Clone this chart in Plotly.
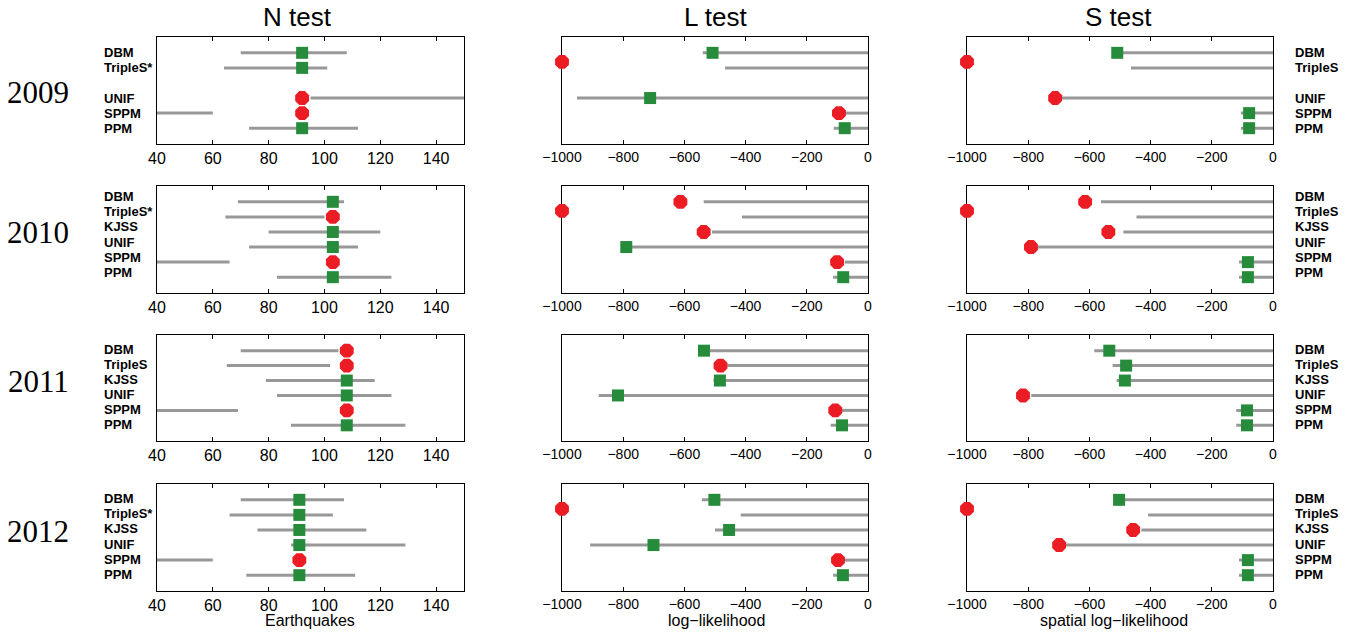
import plotly.graph_objects as go

# ---------------- data ----------------
years = [2009, 2010, 2011, 2012]
tests = ["N", "L", "S"]

# row slots (2009 has no KJSS row)
slots_2009 = [1, 2, 4, 5, 6]
slots_2010 = [1, 2, 3, 4, 5, 6]
slots_2011 = [1, 2, 3, 4, 5, 6]
slots_2012 = [1, 2, 3, 4, 5, 6]

labels_N_2009 = ["DBM", "TripleS*", "UNIF", "SPPM", "PPM"]
labels_N_2010 = ["DBM", "TripleS*", "KJSS", "UNIF", "SPPM", "PPM"]
labels_N_2011 = ["DBM", "TripleS", "KJSS", "UNIF", "SPPM", "PPM"]
labels_N_2012 = ["DBM", "TripleS*", "KJSS", "UNIF", "SPPM", "PPM"]
labels_S_2009 = ["DBM", "TripleS", "UNIF", "SPPM", "PPM"]
labels_S_2010 = ["DBM", "TripleS", "KJSS", "UNIF", "SPPM", "PPM"]
labels_S_2011 = ["DBM", "TripleS", "KJSS", "UNIF", "SPPM", "PPM"]
labels_S_2012 = ["DBM", "TripleS", "KJSS", "UNIF", "SPPM", "PPM"]

# N test: observed number of earthquakes and forecast ranges
n_obs_2009 = 92
n_lo_2009 = [70, 64, 95, 35, 73]
n_hi_2009 = [108, 101, 160, 60, 112]
n_obs_2010 = 103
n_lo_2010 = [69, 64.5, 80, 73, 35, 83]
n_hi_2010 = [107, 100, 120, 112, 66, 124]
n_obs_2011 = 108
n_lo_2011 = [70, 65, 79, 83, 35, 88]
n_hi_2011 = [105, 102, 118, 124, 69, 129]
n_obs_2012 = 91
n_lo_2012 = [70, 66, 76, 88, 35, 72]
n_hi_2012 = [107, 103, 115, 129, 60, 111]

# L test: observed log-likelihood and lower bound of the simulated range (upper = 0)
l_obs_2009 = [-508, -1000, -712, -95, -76]
l_lo_2009 = [-540, -467, -951, -80, -112]
l_obs_2010 = [-613, -1000, -537, -790, -101, -81]
l_lo_2010 = [-537, -412, -510, -800, -76, -114]
l_obs_2011 = [-536, -482, -484, -817, -107, -85]
l_lo_2011 = [-545, -460, -505, -880, -85, -122]
l_obs_2012 = [-502, -1000, -454, -701, -98, -82]
l_lo_2012 = [-543, -416, -500, -908, -80, -114]

# S test: observed spatial log-likelihood and lower bound (upper = 0)
s_obs_2009 = [-509, -1000, -712, -78, -78]
s_lo_2009 = [-520, -464, -690, -105, -105]
s_obs_2010 = [-614, -1000, -538, -791, -82, -82]
s_lo_2010 = [-562, -446, -489, -770, -111, -111]
s_obs_2011 = [-535, -480, -484, -817, -85, -85]
s_lo_2011 = [-584, -524, -511, -790, -120, -120]
s_obs_2012 = [-503, -1000, -457, -699, -82, -82]
s_lo_2012 = [-520, -408, -430, -680, -111, -111]
ll_hi = 0

n_ticks = [40, 60, 80, 100, 120, 140]
ll_ticks = [-1000, -800, -600, -400, -200, 0]

axis_titles = ["Earthquakes", "log\u2212likelihood", "spatial log\u2212likelihood"]
col_titles = ["N test", "L test", "S test"]

# ---------------- assemble ----------------
slots = {2009: slots_2009, 2010: slots_2010, 2011: slots_2011, 2012: slots_2012}
labels_N = {2009: labels_N_2009, 2010: labels_N_2010, 2011: labels_N_2011, 2012: labels_N_2012}
labels_S = {2009: labels_S_2009, 2010: labels_S_2010, 2011: labels_S_2011, 2012: labels_S_2012}
n_obs = {2009: n_obs_2009, 2010: n_obs_2010, 2011: n_obs_2011, 2012: n_obs_2012}
n_lo = {2009: n_lo_2009, 2010: n_lo_2010, 2011: n_lo_2011, 2012: n_lo_2012}
n_hi = {2009: n_hi_2009, 2010: n_hi_2010, 2011: n_hi_2011, 2012: n_hi_2012}
l_obs = {2009: l_obs_2009, 2010: l_obs_2010, 2011: l_obs_2011, 2012: l_obs_2012}
l_lo = {2009: l_lo_2009, 2010: l_lo_2010, 2011: l_lo_2011, 2012: l_lo_2012}
s_obs = {2009: s_obs_2009, 2010: s_obs_2010, 2011: s_obs_2011, 2012: s_obs_2012}
s_lo = {2009: s_lo_2009, 2010: s_lo_2010, 2011: s_lo_2011, 2012: s_lo_2012}

W, H = 1351, 635
GRAY = "rgb(152,152,152)"
GREEN = "rgb(38,140,60)"
RED = "rgb(236,28,36)"
FONT = "Liberation Sans, Arial, sans-serif"

col_px = [(157, 464), (562, 868), (967, 1273)]
row_px = [(37, 144), (186, 293), (335, 441), (484, 591)]
year_y_px = [92, 232, 381, 531]
label_shift = {2009: 0, 2010: 5, 2011: 1, 2012: 1}

fig = go.Figure()
layout = {}
annotations = []

for r, yr in enumerate(years):
    sl = slots[yr]
    for c, test in enumerate(tests):
        k = r * 3 + c + 1
        xa = "x" if k == 1 else f"x{k}"
        ya = "y" if k == 1 else f"y{k}"
        if test == "N":
            lo = n_lo[yr]
            hi = n_hi[yr]
            obs = [n_obs[yr]] * len(sl)
            xmin, xmax = 40, 150
            ticks = n_ticks
        elif test == "L":
            lo = l_lo[yr]
            hi = [ll_hi] * len(sl)
            obs = l_obs[yr]
            xmin, xmax = -1000, 0
            ticks = ll_ticks
        else:
            lo = s_lo[yr]
            hi = [ll_hi] * len(sl)
            obs = s_obs[yr]
            xmin, xmax = -1000, 0
            ticks = ll_ticks

        xs, ys = [], []
        for s, a, b in zip(sl, lo, hi):
            xs += [a, b, None]
            ys += [s, s, None]
        fig.add_trace(go.Scatter(x=xs, y=ys, mode="lines", xaxis=xa, yaxis=ya,
                                 line=dict(color=GRAY, width=3),
                                 showlegend=False, hoverinfo="skip"))

        gx, gy, rx, ry = [], [], [], []
        for s, a, b, o in zip(sl, lo, hi, obs):
            ypos = s - 0.4 if o <= xmin else s
            if a <= o <= b:
                gx.append(o); gy.append(ypos)
            else:
                rx.append(o); ry.append(ypos)
        fig.add_trace(go.Scatter(x=gx, y=gy, mode="markers", xaxis=xa, yaxis=ya,
                                 marker=dict(symbol="square", size=12, color=GREEN,
                                             line=dict(width=0)),
                                 cliponaxis=False, showlegend=False))
        fig.add_trace(go.Scatter(x=rx, y=ry, mode="markers", xaxis=xa, yaxis=ya,
                                 marker=dict(symbol="octagon", size=15, color=RED,
                                             line=dict(width=0)),
                                 cliponaxis=False, showlegend=False))

        x0, x1 = col_px[c]
        y0, y1 = row_px[r]
        layout["xaxis" if k == 1 else f"xaxis{k}"] = dict(
            domain=[x0 / W, x1 / W], anchor=ya, range=[xmin, xmax],
            tickvals=ticks, ticks="inside", ticklen=4, tickcolor="black",
            showline=True, linecolor="black", linewidth=1, mirror="ticks",
            showgrid=False, zeroline=False, layer="below traces", automargin=False,
            tickfont=dict(family=FONT, size=16 if test == "N" else 14, color="black"),
        )
        layout["yaxis" if k == 1 else f"yaxis{k}"] = dict(
            domain=[1 - y1 / H, 1 - y0 / H], anchor=xa, range=[7.05, -0.05],
            showticklabels=False, ticks="", showline=True, linecolor="black",
            linewidth=1, mirror=True, showgrid=False, zeroline=False,
            layer="below traces", automargin=False,
        )

        if test == "N":
            for s, lab in zip(sl, labels_N[yr]):
                annotations.append(dict(x=102 / W, xref="paper", y=s, yref=ya,
                                        text=f"<b>{lab}</b>", showarrow=False,
                                        xanchor="left", yanchor="middle",
                                        yshift=label_shift[yr],
                                        font=dict(family=FONT, size=13, color="black")))
        if test == "S":
            for s, lab in zip(sl, labels_S[yr]):
                annotations.append(dict(x=1293 / W, xref="paper", y=s, yref=ya,
                                        text=f"<b>{lab}</b>", showarrow=False,
                                        xanchor="left", yanchor="middle",
                                        yshift=label_shift[yr],
                                        font=dict(family=FONT, size=13, color="black")))

    annotations.append(dict(x=38 / W, xref="paper", y=1 - year_y_px[r] / H, yref="paper",
                            text=str(yr), showarrow=False, xanchor="center", yanchor="middle",
                            font=dict(family="Liberation Serif, Times New Roman, serif",
                                      size=31, color="black")))

title_x_px = [297, 715, 1118]
for c in range(3):
    annotations.append(dict(x=title_x_px[c] / W, xref="paper", y=1 - 17 / H, yref="paper",
                            text=col_titles[c], showarrow=False, xanchor="center",
                            yanchor="middle",
                            font=dict(family=FONT, size=26, color="black")))

axt_x_px = [310, 716, 1114]
for c in range(3):
    annotations.append(dict(x=axt_x_px[c] / W, xref="paper", y=1 - 620 / H, yref="paper",
                            text=axis_titles[c], showarrow=False, xanchor="center",
                            yanchor="middle",
                            font=dict(family=FONT, size=16, color="black")))

fig.update_layout(
    template="none",
    width=W, height=H,
    autosize=False,
    margin=dict(l=0, r=0, t=0, b=0, pad=0, autoexpand=False),
    paper_bgcolor="white", plot_bgcolor="white",
    showlegend=False,
    annotations=annotations,
    **layout,
)

fig.write_html(
    "out.html",
    config={"displayModeBar": False},
    post_script="document.body.style.margin='0px';document.body.style.overflow='hidden';",
)
